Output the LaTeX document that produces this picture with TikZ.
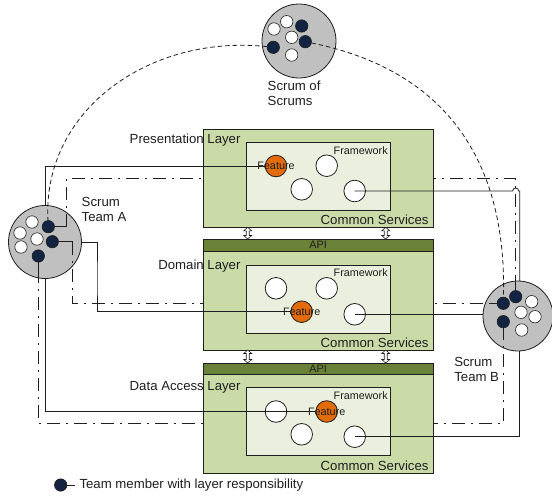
\documentclass[tikz,border=0pt]{standalone}
\usepackage{fontspec}
\setmainfont{Liberation Sans}
\usetikzlibrary{calc}

\definecolor{layerfill}{RGB}{203,219,168}
\definecolor{innerfill}{RGB}{235,240,222}
\definecolor{apifill}{RGB}{106,130,56}
\definecolor{featfill}{RGB}{226,107,10}
\definecolor{navyfill}{RGB}{18,36,66}
\definecolor{teamfill}{RGB}{192,192,192}
\definecolor{ink}{RGB}{30,30,30}

\newcommand\diaglbl{\fontsize{13.2}{15}\selectfont}
\newcommand\diagsmall{\fontsize{10.8}{12}\selectfont}
% hollow vertical double arrow: x, top y, bottom y
\newcommand\blockarrowV[3]{%
  \draw[dblarrow] (#1,#2) -- (#1+4,#2+3.5) -- (#1+1.5,#2+3.5) -- (#1+1.5,#3-3.5)
    -- (#1+4,#3-3.5) -- (#1,#3) -- (#1-4,#3-3.5) -- (#1-1.5,#3-3.5)
    -- (#1-1.5,#2+3.5) -- (#1-4,#2+3.5) -- cycle;}

\begin{document}
\begin{tikzpicture}[x=1pt,y=-1pt,
  every node/.style={inner sep=0pt,outer sep=0pt,text=ink},
  teamdisc/.style={circle,draw=ink,line width=0.8pt,fill=teamfill,minimum size=#1},
  member/.style={circle,draw=ink,line width=0.6pt,fill=navyfill,minimum size=12.4pt},
  peer/.style={circle,draw=ink,line width=0.6pt,fill=white,minimum size=12.4pt},
  layercirc/.style={circle,draw=ink,line width=0.8pt,fill=white,minimum size=21.6pt},
  feat/.style={circle,draw=ink,line width=0.8pt,fill=featfill,minimum size=21.6pt,font=\diagsmall},
  layerbox/.style={rectangle,draw=ink,line width=0.8pt,fill=layerfill,anchor=north west,minimum width=229.7pt},
  innerbox/.style={rectangle,draw=ink,line width=0.8pt,fill=innerfill,anchor=north west,minimum width=144.7pt},
  apibar/.style={rectangle,draw=ink,line width=0.8pt,fill=apifill,anchor=north west,minimum width=229.7pt,font=\diagsmall},
  wire/.style={ink,line width=0.8pt},
  memtick/.style={ink,line width=0.8pt},
  peerlink/.style={ink,line width=0.8pt,dash pattern=on 13pt off 6pt on 2pt off 6pt},
  sync/.style={ink,line width=0.8pt,dash pattern=on 4.5pt off 3pt},
  dblarrow/.style={ink,line width=0.6pt,fill=white},
]
\useasboundingbox (0,0) rectangle (552,496);

% ---- teams and the scrum of scrums ----
\node[teamdisc=74pt] (sos) at (299,41) {};
\node[teamdisc=73pt] (teamA) at (45,242) {};
\node[teamdisc=70pt] (teamB) at (518,316) {};

% scrum of scrums members
\node[peer] (sW1) at (286.7,21.7) {};
\node[peer] (sW2) at (274,29) {};
\node[peer] (sW3) at (291.7,37.3) {};
\node[peer] (sW4) at (291.7,55) {};
\node[member] (sN1) at (301.7,26) {};
\node[member] (sN2) at (273.3,47.3) {};
\node[member] (sN3) at (305.3,41.7) {};

% team A members
\node[peer] (aW1) at (32,222) {};
\node[peer] (aW2) at (20,233) {};
\node[peer] (aW3) at (37,239) {};
\node[peer] (aW4) at (21,247) {};
\node[member] (aN1) at (48.3,226.7) {};
\node[member] (aN2) at (52.3,241.7) {};
\node[member] (aN3) at (38.3,256) {};

% team B members
\node[peer] (bW1) at (531.7,301.7) {};
\node[peer] (bW2) at (521,312.3) {};
\node[peer] (bW3) at (535,316.7) {};
\node[peer] (bW4) at (521.7,330) {};
\node[member] (bN1) at (515.7,296.7) {};
\node[member] (bN2) at (503.3,303.3) {};
\node[member] (bN3) at (503.3,321.7) {};

% responsibility ticks
\coordinate (aT1) at (66,226.7);
\coordinate (aT2) at (72.7,241.7);
\coordinate (aT3) at (38.3,270);
\coordinate (bT1) at (515.7,285);
\coordinate (bT2) at (489,303.3);
\coordinate (bT3) at (503.3,336);
\coordinate (peerTop) at (0,178.5);
\coordinate (peerLow) at (0,423.5);

\draw[memtick] (aN1.east) -- (aT1);
\draw[memtick] (aN2.east) -- (aT2);
\draw[memtick] (aN3.south) -- (aT3);
\draw[memtick] (bN1.north) -- (bT1);
\draw[memtick] (bN2.west) -- (bT2);
\draw[memtick] (bN3.south) -- (bT3);

% peer links between team members with the same layer
\draw[peerlink] (aT1) -- (aT1 |- peerTop) -| (bT1);
\draw[peerlink] (aT2) |- (bT2);
\draw[peerlink] (aT3) -- (aT3 |- peerLow) -| (bT3);

% scrum of scrums representatives
\draw[sync] (sN2) .. controls (150,34) and (42,110) .. (aN1);
\draw[sync] (sN3) .. controls (445,70) and (507,160) .. (bN2);

% ---- layers ----
\node[layerbox,minimum height=98pt] (presBox) at (203.3,129.3) {};
\node[layerbox,minimum height=111pt] (domBox) at (203.3,239) {};
\node[apibar,minimum height=12.5pt] (domApi) at (203.3,239) {API};
\node[layerbox,minimum height=110.3pt] (dataBox) at (203.3,363) {};
\node[apibar,minimum height=11.5pt] (dataApi) at (203.3,363) {API};

\node[innerbox,minimum height=67.3pt] (presIn) at (246,142.7) {};
\node[innerbox,minimum height=68.3pt] (domIn) at (246,265) {};
\node[innerbox,minimum height=68pt] (dataIn) at (246,387.7) {};

\blockarrowV{247.7}{227.3}{239}
\blockarrowV{385.7}{227.3}{239}
\blockarrowV{247.7}{350}{363}
\blockarrowV{385.7}{350}{363}

\foreach \b in {presIn,domIn,dataIn}
  \node[anchor=north east,font=\diagsmall] (\b Fw) at ($(\b.north east)+(-3,3.5)$) {Framework};
\foreach \b in {presBox,domBox,dataBox}
  \node[anchor=base east,font=\diaglbl] (\b Cs) at ($(\b.south east)+(-4.5,-3)$) {Common Services};

% components inside each layer
\node[layercirc] (presW1) at (326.7,165.7) {};
\node[layercirc] (presW2) at (301.7,189.3) {};
\node[layercirc] (presW3) at (354.7,191) {};
\node[feat] (presF) at (276,166) {};

\node[layercirc] (domW1) at (276,288.3) {};
\node[layercirc] (domW2) at (326.7,288.3) {};
\node[layercirc] (domW3) at (354.7,314.3) {};
\node[feat] (domF) at (301.7,311.7) {};

\node[layercirc] (dataW1) at (276,411.5) {};
\node[layercirc] (dataW2) at (301.7,434.3) {};
\node[layercirc] (dataW3) at (354.7,436.7) {};
\node[feat] (dataF) at (326.7,411.5) {};

% team to feature / component work
\draw[wire] (teamA.north) |- (presF);
\draw[wire] (teamA.east) -| (97,280) |- (domF);
\draw[wire] (teamA.south) |- (dataF);
\draw[wire] (presW3.center) -- ($(bN1 |- presW3.center)+(-3pt,0)$)
  arc[start angle=180,end angle=0,radius=3pt] -- (teamB.87 |- presW3.center) -- (teamB.87);
\draw[wire] (domW3.center) -- (domW3.center -| teamB.west);
\draw[wire] (dataW3.center) -| (teamB.273);

\foreach \f in {presF,domF,dataF}
  \node[font=\diagsmall] (\f T) at (\f) {Feature};

% ---- labels ----
\node[anchor=base east,font=\diaglbl] (presLbl) at (240.5,143) {Presentation Layer};
\node[anchor=base east,font=\diaglbl] (domLbl) at (240.5,269.8) {Domain Layer};
\node[anchor=base east,font=\diaglbl] (dataLbl) at (240.5,390.5) {Data Access Layer};

\node[anchor=west,align=left,font=\diaglbl] (sosLbl) at (267.7,93.3) {Scrum of\\Scrums};
\node[anchor=west,align=left,font=\diaglbl] (teamALbl) at (81.7,209.5) {Scrum\\Team A};
\node[anchor=west,align=left,font=\diaglbl] (teamBLbl) at (454.3,369.2) {Scrum\\Team B};

% ---- legend ----
\node[member] (legDot) at (60.7,485) {};
\coordinate (legEnd) at (75,485);
\draw[memtick] (legDot.east) -- (legEnd);
\node[anchor=west,font=\diaglbl] (legText) at (79.5,485.5) {Team member with layer responsibility};
\end{tikzpicture}
\end{document}
